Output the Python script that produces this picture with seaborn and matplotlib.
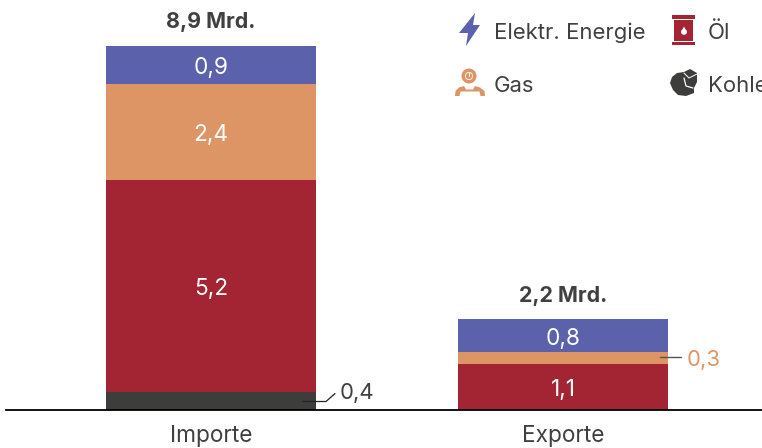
import matplotlib
matplotlib.use("Agg")
import matplotlib.pyplot as plt
from matplotlib.patches import Polygon, Rectangle, Circle, Ellipse
from matplotlib.transforms import Affine2D
import seaborn as sns
import pandas as pd

categories = ["Importe", "Exporte"]
kohle = [0.44, 0.0]
oel = [5.18, 1.12]
gas = [2.35, 0.29]
strom = [0.93, 0.81]
totals = ["8,9 Mrd.", "2,2 Mrd."]
top_y = [8.9, 2.22]

series = [kohle, oel, gas, strom]
series_colors = ["#3d3d3b", "#a32432", "#dd9566", "#5b62ab"]
series_labels = [["", ""], ["5,2", "1,1"], ["2,4", ""], ["0,9", "0,8"]]

dark = "#404040"
W, H = 762, 448

sns.set_theme(style="white")
plt.rcParams["font.family"] = ["Inter", "DejaVu Sans"]

fig = plt.figure(figsize=(W / 100, H / 100), dpi=100)
ax = fig.add_axes([6 / W, (H - 410) / H, (W - 6) / W, 410 / H])

df = pd.DataFrame({"cat": categories})
bottom = [0.0, 0.0]
for vals, col, labs in zip(series, series_colors, series_labels):
    sns.barplot(x=df["cat"], y=vals, color=col, width=0.597, bottom=bottom,
                saturation=1, ax=ax, linewidth=0)
    for i, lab in enumerate(labs):
        if lab:
            ax.text(i, bottom[i] + vals[i] / 2 - 0.01, lab, color="white", ha="center",
                    va="center_baseline", fontsize=16.3)
    bottom = [b + v for b, v in zip(bottom, vals)]

for i, t in enumerate(totals):
    ax.text(i, top_y[i] + 0.62, t, color=dark, ha="center", va="center_baseline",
            fontsize=15.4, fontweight="bold")

ax.set_xlim(-0.582, 1.565)
ax.set_ylim(0, 10.02)
ax.set_xlabel("")
ax.set_ylabel("")
ax.set_yticks([])
ax.tick_params(axis="x", length=0, pad=11, labelsize=16.3, labelcolor=dark)
sns.despine(ax=ax, left=True)
ax.spines["bottom"].set_color("black")
ax.spines["bottom"].set_linewidth(1.3)

# everything below is placed in reference pixels (origin top left)
px = Affine2D().scale(1, -1).translate(0, H)


def line(xs, ys, color, lw=1.0):
    fig.add_artist(plt.Line2D(xs, ys, color=color, lw=lw, transform=px))


def label(x, y, s, color=dark, size=15.9):
    fig.text(x, y, s, color=color, fontsize=size, va="center_baseline", transform=px)


def shape(p):
    p.set_transform(px)
    fig.add_artist(p)


line([303, 326, 335], [401.5, 401.5, 393.5], "#222222", 0.9)
label(340, 391, "0,4")
line([660, 681], [357, 357], "#555555", 1.0)
label(687, 358, "0,3", color="#dd9566")

# legend
label(494, 31, "Elektr. Energie")
label(708, 31, "Öl")
label(494, 84, "Gas")
label(708, 84, "Kohle")

# icon: lightning
shape(Polygon([(475, 13), (459, 33), (468, 33), (466, 46), (480, 25), (473, 25)],
              closed=True, fc="#5b62ab", ec="none"))
# icon: barrel
shape(Rectangle((672, 15), 23, 3.5, fc="#a32432", ec="none"))
shape(Rectangle((672, 41.5), 23, 3.5, fc="#a32432", ec="none"))
shape(Rectangle((674, 19.5), 19, 21, fc="#a32432", ec="none"))
shape(Ellipse((684, 32), 6, 5.5, fc="white", ec="none"))
shape(Polygon([(684, 26.5), (681.3, 31.5), (686.7, 31.5)], closed=True, fc="white", ec="none"))
# icon: gas meter man
shape(Circle((469, 76), 7.5, fc="#dd9566", ec="none"))
shape(Circle((469, 76), 3.6, fc="none", ec="white", lw=0.6))
line([469, 469], [73, 76], "white", 0.7)
shape(Polygon([(455, 96), (455.5, 91), (459, 87.5), (464, 86), (466, 89.5), (473, 89.5), (475, 86),
               (480, 87.5), (484.5, 91), (485, 96), (480.5, 96), (479.5, 91.5), (460.5, 91.5), (459.5, 96)],
              closed=True, fc="#dd9566", ec="none"))
# icon: coal
shape(Polygon([(670, 83), (672, 77), (677, 73), (684, 72), (690, 69), (697, 73), (697, 82),
               (694, 88), (694, 93), (686, 96), (678, 95), (673, 90)],
              closed=True, fc="#3d3d3b", ec="none"))
line([684, 689, 697], [73, 78, 74], "white", 0.7)
line([684, 686, 693], [78, 86, 88], "white", 0.9)

fig.savefig("out.png", dpi=100)
